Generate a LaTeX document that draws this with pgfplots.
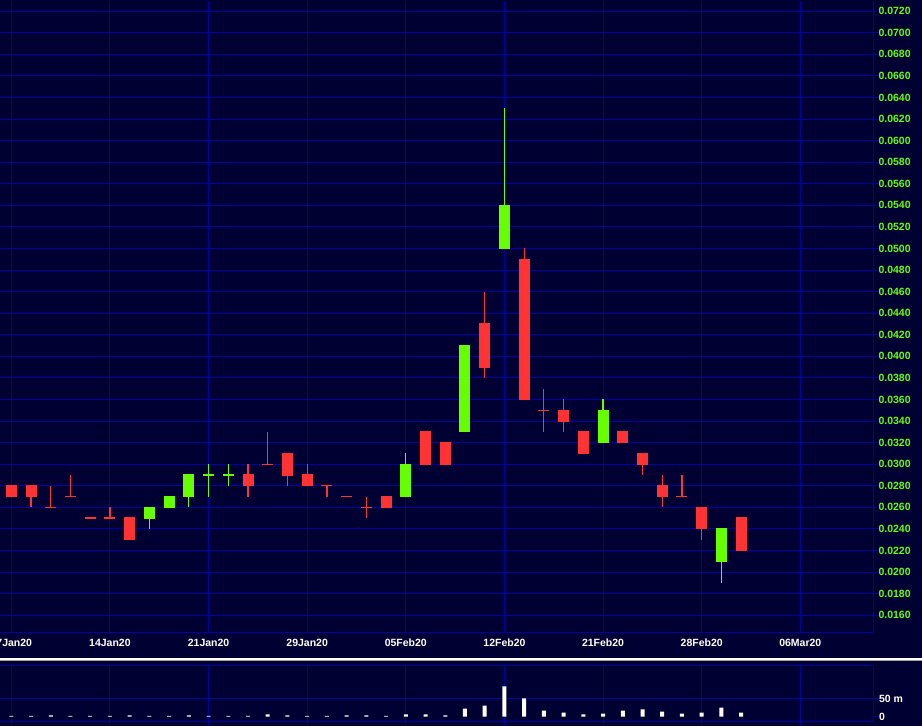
\documentclass[border=0pt]{standalone}
\usepackage{fontspec}
\setmainfont{Liberation Sans}
\usepackage{pgfplots}
\usepackage{pgfplotstable}
\pgfplotsset{compat=1.18}
\definecolor{bg}{RGB}{0,0,51}
\definecolor{gridc}{RGB}{0,0,165}
\definecolor{cgreen}{RGB}{102,255,0}
\definecolor{cred}{RGB}{255,51,51}

% index O H L C  (index 0 = 07Jan20)
\pgfplotstableread{
i  O     H     L     C
0  0.028 0.028 0.027 0.027
1  0.028 0.028 0.026 0.027
2  0.026 0.028 0.026 0.026
3  0.027 0.029 0.027 0.027
4  0.025 0.025 0.025 0.025
5  0.025 0.026 0.025 0.025
6  0.025 0.025 0.023 0.023
12 0.029 0.030 0.027 0.028
13 0.030 0.033 0.030 0.030
14 0.031 0.031 0.028 0.029
15 0.029 0.030 0.028 0.028
16 0.028 0.028 0.027 0.028
17 0.027 0.027 0.027 0.027
18 0.026 0.027 0.025 0.026
19 0.027 0.027 0.026 0.026
21 0.033 0.033 0.030 0.030
22 0.032 0.032 0.030 0.030
24 0.043 0.046 0.038 0.039
26 0.049 0.050 0.036 0.036
27 0.035 0.037 0.033 0.035
28 0.035 0.036 0.033 0.034
29 0.033 0.033 0.031 0.031
31 0.033 0.033 0.032 0.032
32 0.031 0.031 0.029 0.030
33 0.028 0.029 0.026 0.027
34 0.027 0.029 0.027 0.027
35 0.026 0.026 0.023 0.024
37 0.025 0.025 0.022 0.022
}\redtab

\pgfplotstableread{
i  O     H     L     C
7  0.025 0.026 0.024 0.026
8  0.026 0.027 0.026 0.027
9  0.027 0.029 0.026 0.029
10 0.029 0.030 0.027 0.029
11 0.029 0.030 0.028 0.029
20 0.027 0.031 0.027 0.030
23 0.033 0.041 0.033 0.041
25 0.050 0.063 0.050 0.054
30 0.032 0.036 0.032 0.035
36 0.021 0.024 0.019 0.024
}\greentab

\pgfplotstableread{
i  V
0  2
1  2
2  3.5
3  2
4  2
5  2
6  3.5
7  2
8  2
9  3.5
10 2
11 2
12 2
13 6
14 3.5
15 2
16 2
17 3.5
18 3.5
19 2
20 6
21 6
22 3
23 22.6
24 31
25 85
26 51
27 17
28 11
29 6
30 8.5
31 17
32 20
33 14
34 8.5
35 11
36 25
37 11
}\voltab

\pgfplotsset{
  chartfont/.style={font=\fontsize{10.5}{12}\selectfont\bfseries},
}

\begin{document}
\begin{tikzpicture}[x=1pt,y=1pt]
\fill[bg, use as bounding box] (0,0) rectangle (922,726);
\fill[white] (0,65.5) rectangle (922,68);
\fill[black!35] (0,65) rectangle (922,65.8);

% ---------------- price panel ----------------
\begin{axis}[
  at={(0,87)}, anchor=south west, scale only axis,
  width=873.3pt, height=631pt,
  xmin=-0.574, xmax=43.70, ymin=0.014424, ymax=0.072927,
  axis x line=bottom, axis y line=right,
  axis line style={draw=gridc, line width=1pt, -},
  grid=major, grid style={draw=gridc, line width=1pt},
  xtick={0,5,10,15,20,25,30,35,40},
  xticklabels={07Jan20,14Jan20,21Jan20,29Jan20,05Feb20,12Feb20,21Feb20,28Feb20,06Mar20},
  xtick pos=lower, ytick pos=right,
  xtick style={draw=none},
  xticklabel style={chartfont, text=white, anchor=north, inner sep=0pt, yshift=-1.5pt},
  ytick={0.016,0.018,0.020,0.022,0.024,0.026,0.028,0.030,0.032,0.034,0.036,0.038,0.040,0.042,0.044,0.046,0.048,0.050,0.052,0.054,0.056,0.058,0.060,0.062,0.064,0.066,0.068,0.070,0.072},
  yticklabels={0.0160,0.0180,0.0200,0.0220,0.0240,0.0260,0.0280,0.0300,0.0320,0.0340,0.0360,0.0380,0.0400,0.0420,0.0440,0.0460,0.0480,0.0500,0.0520,0.0540,0.0560,0.0580,0.0600,0.0620,0.0640,0.0660,0.0680,0.0700,0.0720},
  scaled y ticks=false,
  tick align=outside, major tick length=5pt,
  ytick style={draw=gridc, line width=1pt},
  yticklabel style={chartfont, text=cgreen, anchor=west, inner sep=0pt},
  clip=true,
]
% wicks
\addplot[draw=none, forget plot, error bars/.cd, y dir=plus, y explicit, error mark=none,
  error bar style={draw=cred, line width=1.2pt}]
  table[x=i, y=L, y error plus expr={\thisrow{H}-\thisrow{L}}] {\redtab};
\addplot[draw=none, forget plot, error bars/.cd, y dir=plus, y explicit, error mark=none,
  error bar style={draw=cgreen, line width=1.2pt}]
  table[x=i, y=L, y error plus expr={\thisrow{H}-\thisrow{L}}] {\greentab};
% bodies
\addplot[draw=none, forget plot, error bars/.cd, y dir=plus, y explicit, error mark=none,
  error bar style={draw=cred, line width=11pt}]
  table[x=i, y expr={min(\thisrow{O},\thisrow{C})}, y error plus expr={abs(\thisrow{O}-\thisrow{C})}] {\redtab};
\addplot[draw=none, forget plot, error bars/.cd, y dir=plus, y explicit, error mark=none,
  error bar style={draw=cgreen, line width=11pt}]
  table[x=i, y expr={min(\thisrow{O},\thisrow{C})}, y error plus expr={abs(\thisrow{O}-\thisrow{C})}] {\greentab};
% open / close edges
\addplot[only marks, mark=-, mark size=5.5pt, mark options={draw=cred, line width=1.2pt}] table[x=i, y=O] {\redtab};
\addplot[only marks, mark=-, mark size=5.5pt, mark options={draw=cred, line width=1.2pt}] table[x=i, y=C] {\redtab};
\addplot[only marks, mark=-, mark size=5.5pt, mark options={draw=cgreen, line width=1.2pt}] table[x=i, y=O] {\greentab};
\addplot[only marks, mark=-, mark size=5.5pt, mark options={draw=cgreen, line width=1.2pt}] table[x=i, y=C] {\greentab};
\end{axis}

% ---------------- volume panel ----------------
\begin{axis}[
  at={(0,11.7)}, anchor=south west, scale only axis,
  width=873.3pt, height=56pt,
  xmin=-0.574, xmax=43.70, ymin=-15, ymax=143,
  axis x line=box, axis y line=right,
  axis line style={draw=gridc, line width=1pt, -},
  grid=major, grid style={draw=gridc, line width=1pt},
  xtick={0,5,10,15,20,25,30,35,40}, xticklabels={},
  xtick pos=lower, ytick pos=right,
  tick align=outside, major tick length=7pt,
  xtick style={draw=gridc, line width=1pt},
  ytick={50}, yticklabels={50 m},
  extra y ticks={0}, extra y tick labels={0},
  extra y tick style={grid=none},
  ytick style={draw=gridc, line width=1pt},
  yticklabel style={chartfont, text=white, anchor=west, inner sep=0pt, xshift=-1.5pt},
]
\addplot[ybar, bar width=4pt, fill=white, draw=none] table[x=i, y=V] {\voltab};
\end{axis}
\end{tikzpicture}
\end{document}
